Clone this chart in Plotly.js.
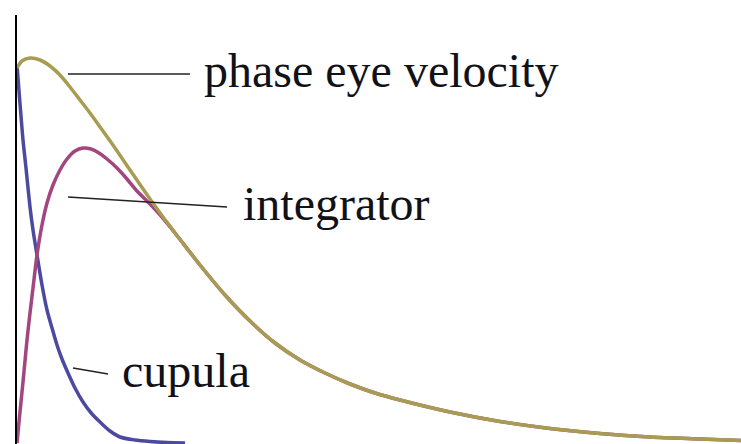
<!DOCTYPE html>
<html>
<head>
<meta charset="utf-8">
<script src="https://cdn.plot.ly/plotly-3.0.1.min.js"></script>
<style>
  html, body { margin: 0; padding: 0; background: #fff; }
  #chart { width: 741px; height: 444px; }
</style>
</head>
<body>
<div id="chart"></div>
<script>
// Phase eye velocity response
const tPhase = [0, 0.05, 0.13, 0.23, 0.33, 0.43, 0.53, 0.63, 0.73, 0.83, 0.98, 1.13, 1.33, 1.58, 1.83, 2.08, 2.33, 2.58, 2.83, 3.08, 3.33, 3.58, 3.83, 4.33, 4.83, 5.33, 5.83, 6.33, 6.83, 7.24];
const phaseEyeVelocity = [3.75, 3.82, 3.85, 3.83, 3.77, 3.68, 3.56, 3.43, 3.30, 3.16, 2.95, 2.73, 2.44, 2.10, 1.78, 1.48, 1.22, 1.00, 0.83, 0.70, 0.59, 0.50, 0.43, 0.31, 0.215, 0.145, 0.095, 0.06, 0.04, 0.025];

// Integrator response
const tIntegrator = [0, 0.02, 0.04, 0.06, 0.08, 0.10, 0.13, 0.16, 0.20, 0.25, 0.30, 0.36, 0.43, 0.50, 0.58, 0.66, 0.74, 0.82, 0.90, 1.00, 1.10, 1.20, 1.33, 1.45, 1.58, 1.83, 2.08, 2.33, 2.58, 2.83, 3.08, 3.33, 3.58, 3.83, 4.33, 4.83, 5.33, 5.83, 6.33, 6.83, 7.24];
const integrator = [0, 0.21, 0.41, 0.61, 0.82, 1.03, 1.30, 1.55, 1.88, 2.18, 2.40, 2.58, 2.73, 2.84, 2.92, 2.95, 2.94, 2.90, 2.84, 2.75, 2.64, 2.52, 2.39, 2.26, 2.10, 1.78, 1.48, 1.22, 1.00, 0.83, 0.70, 0.59, 0.50, 0.43, 0.31, 0.215, 0.145, 0.095, 0.06, 0.04, 0.025];

// Cupula response
const tCupula = [0, 0.02, 0.04, 0.06, 0.09, 0.13, 0.16, 0.20, 0.25, 0.30, 0.35, 0.40, 0.45, 0.51, 0.58, 0.66, 0.75, 0.83, 0.93, 1.03, 1.18, 1.33, 1.50, 1.68];
const cupula = [3.78, 3.52, 3.27, 3.03, 2.75, 2.36, 2.13, 1.88, 1.58, 1.33, 1.15, 0.98, 0.84, 0.70, 0.55, 0.41, 0.29, 0.21, 0.12, 0.06, 0.03, 0.015, 0.005, 0.0];

const labels = ['phase eye velocity', 'integrator', 'cupula'];

const serif = { family: 'Liberation Serif', size: 48, color: '#111118' };
const leader = { color: '#222', width: 1.5 };

const traces = [
  { x: tCupula, y: cupula, mode: 'lines', line: { color: '#4c4aa0', width: 3.5, shape: 'spline', smoothing: 0.8 }, hoverinfo: 'skip' },
  { x: tIntegrator, y: integrator, mode: 'lines', line: { color: '#a3457f', width: 3.5, shape: 'spline', smoothing: 0.8 }, hoverinfo: 'skip' },
  { x: tPhase, y: phaseEyeVelocity, mode: 'lines', line: { color: '#a89c52', width: 3.5, shape: 'spline', smoothing: 0.8 }, hoverinfo: 'skip' }
];

const layout = {
  width: 741, height: 444,
  margin: { l: 17, r: 0, t: 15, b: 0 },
  paper_bgcolor: '#fff', plot_bgcolor: '#fff',
  showlegend: false,
  xaxis: { range: [0, 7.24], visible: false, fixedrange: true },
  yaxis: { range: [-0.01, 4.28], showline: true, linecolor: '#000', linewidth: 2,
           showgrid: false, zeroline: false, showticklabels: false, ticks: '', fixedrange: true },
  shapes: [
    { type: 'line', x0: 0.51, x1: 1.73, y0: 3.69, y1: 3.69, line: leader },
    { type: 'line', x0: 0.51, x1: 2.10, y0: 2.46, y1: 2.36, line: leader },
    { type: 'line', x0: 0.56, x1: 0.91, y0: 0.75, y1: 0.69, line: leader }
  ],
  annotations: [
    { x: 1.85, y: 3.73, text: labels[0], showarrow: false, xanchor: 'left', yanchor: 'middle', font: serif },
    { x: 2.24, y: 2.40, text: labels[1], showarrow: false, xanchor: 'left', yanchor: 'middle', font: serif },
    { x: 1.03, y: 0.73, text: labels[2], showarrow: false, xanchor: 'left', yanchor: 'middle', font: serif }
  ]
};

Plotly.newPlot('chart', traces, layout, { staticPlot: true, displayModeBar: false });
</script>
</body>
</html>
